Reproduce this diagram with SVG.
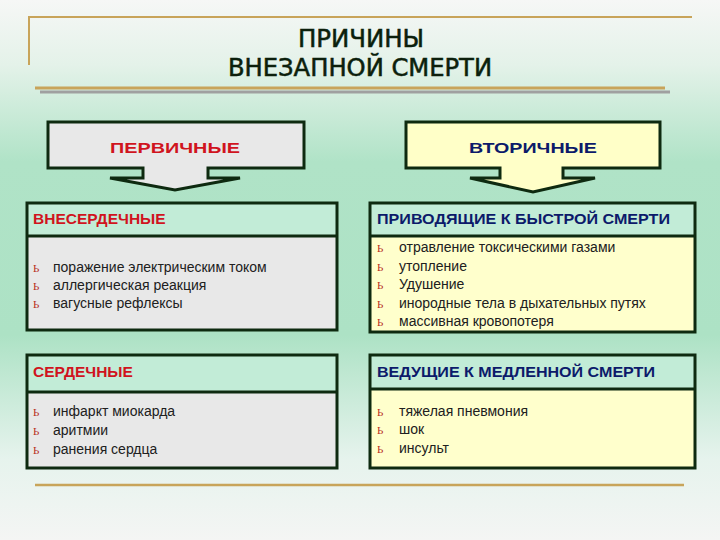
<svg xmlns="http://www.w3.org/2000/svg" width="720" height="540" viewBox="0 0 720 540">
<defs>
<linearGradient id="bg" x1="0" y1="0" x2="0" y2="1">
<stop offset="0" stop-color="#f6f7f6"/>
<stop offset="0.12" stop-color="#e4f2e9"/>
<stop offset="0.3" stop-color="#b0e3c7"/>
<stop offset="0.62" stop-color="#ade2c5"/>
<stop offset="0.85" stop-color="#e6f3ed"/>
<stop offset="1" stop-color="#f4f5f4"/>
</linearGradient>
<style>
.frame{stroke:#0e2a10;stroke-width:3;}
.hdrG{fill:#c2ecd7;}
.bodyG{fill:#e8e8e8;}
.bodyY{fill:#ffffcc;}
.title{font-family:"DejaVu Sans Condensed","DejaVu Sans",sans-serif;font-size:24px;fill:#0c1f0c;text-anchor:middle;stroke:#0c1f0c;stroke-width:0.5;}
.hred{font-family:"Liberation Sans",Arial,sans-serif;font-size:15.5px;font-weight:bold;fill:#d0141e;}
.hblue{font-family:"Liberation Sans",Arial,sans-serif;font-size:15.5px;font-weight:bold;fill:#0c1a6a;}
.item{font-family:"Liberation Sans",Arial,sans-serif;font-size:14px;fill:#202020;}
.bul{font-family:"Liberation Serif",serif;font-size:11px;fill:#b8301c;}
</style>
</defs>
<rect width="720" height="540" fill="url(#bg)"/>
<g id="title">
<line x1="29" y1="17" x2="692" y2="17" stroke="#c8a45a" stroke-width="2"/>
<line x1="29" y1="16" x2="29" y2="65" stroke="#c8a45a" stroke-width="2"/>
<text class="title" x="361" y="47" textLength="126" lengthAdjust="spacingAndGlyphs">ПРИЧИНЫ</text>
<text class="title" x="360" y="76" textLength="264" lengthAdjust="spacingAndGlyphs">ВНЕЗАПНОЙ СМЕРТИ</text>
<line x1="40" y1="92" x2="670" y2="92" stroke="#a0a0a0" stroke-width="3"/>
<line x1="35" y1="88" x2="665" y2="88" stroke="#c8a45a" stroke-width="3"/>
</g>
<g id="connectors"></g>
<g id="primary">
<path class="frame" fill="#e8e8e8" d="M48,122 H304 V168 H208 V178 H240 L175,190 L110,178 H143 V168 H48 Z"/>
<text class="hred" x="175" y="153" text-anchor="middle" font-size="19" textLength="130" lengthAdjust="spacingAndGlyphs">ПЕРВИЧНЫЕ</text>
</g>
<g id="secondary">
<path class="frame" fill="#ffffc8" d="M406,122 H660 V168 H563 V178 H595 L533,192 L470,178 H500 V168 H406 Z"/>
<text class="hblue" x="533" y="153" text-anchor="middle" font-size="19" textLength="128" lengthAdjust="spacingAndGlyphs">ВТОРИЧНЫЕ</text>
</g>
<g id="extracardiac">
<rect class="hdrG" x="27" y="203" width="310" height="33"/>
<rect class="bodyG" x="27" y="236" width="310" height="94"/>
<rect class="frame" fill="none" x="27" y="203" width="310" height="127"/>
<line class="frame" x1="27" y1="236" x2="337" y2="236"/>
<text class="hred" x="33" y="224">ВНЕСЕРДЕЧНЫЕ</text>
<text class="bul" x="33" y="272">Ь</text><text class="item" x="53" y="272">поражение электрическим током</text>
<text class="bul" x="33" y="290">Ь</text><text class="item" x="53" y="290">аллергическая реакция</text>
<text class="bul" x="33" y="308">Ь</text><text class="item" x="53" y="308">вагусные рефлексы</text>
</g>
<g id="fast">
<rect class="hdrG" x="370" y="203" width="325" height="33"/>
<rect class="bodyY" x="370" y="236" width="325" height="96"/>
<rect class="frame" fill="none" x="370" y="203" width="325" height="129"/>
<line class="frame" x1="370" y1="236" x2="695" y2="236"/>
<text class="hblue" x="377" y="224" textLength="293" lengthAdjust="spacingAndGlyphs">ПРИВОДЯЩИЕ К БЫСТРОЙ СМЕРТИ</text>
<text class="bul" x="377" y="252">Ь</text><text class="item" x="399" y="252">отравление токсическими газами</text>
<text class="bul" x="377" y="271">Ь</text><text class="item" x="399" y="271">утопление</text>
<text class="bul" x="377" y="289">Ь</text><text class="item" x="399" y="289">Удушение</text>
<text class="bul" x="377" y="308">Ь</text><text class="item" x="399" y="308">инородные тела в дыхательных путях</text>
<text class="bul" x="377" y="326">Ь</text><text class="item" x="399" y="326">массивная кровопотеря</text>
</g>
<g id="cardiac">
<rect class="hdrG" x="27" y="355" width="310" height="37"/>
<rect class="bodyG" x="27" y="392" width="310" height="76"/>
<rect class="frame" fill="none" x="27" y="355" width="310" height="113"/>
<line class="frame" x1="27" y1="392" x2="337" y2="392"/>
<text class="hred" x="33" y="377">СЕРДЕЧНЫЕ</text>
<text class="bul" x="33" y="416">Ь</text><text class="item" x="53" y="416">инфаркт миокарда</text>
<text class="bul" x="33" y="435">Ь</text><text class="item" x="53" y="435">аритмии</text>
<text class="bul" x="33" y="454">Ь</text><text class="item" x="53" y="454">ранения сердца</text>
</g>
<g id="slow">
<rect class="hdrG" x="370" y="355" width="325" height="34"/>
<rect class="bodyY" x="370" y="389" width="325" height="79"/>
<rect class="frame" fill="none" x="370" y="355" width="325" height="113"/>
<line class="frame" x1="370" y1="389" x2="695" y2="389"/>
<text class="hblue" x="377" y="377" textLength="278" lengthAdjust="spacingAndGlyphs">ВЕДУЩИЕ К МЕДЛЕННОЙ СМЕРТИ</text>
<text class="bul" x="377" y="416">Ь</text><text class="item" x="399" y="416">тяжелая пневмония</text>
<text class="bul" x="377" y="434">Ь</text><text class="item" x="399" y="434">шок</text>
<text class="bul" x="377" y="453">Ь</text><text class="item" x="399" y="453">инсульт</text>
</g>
<line x1="35" y1="485" x2="684" y2="485" stroke="#c8a45a" stroke-width="2.5"/>
</svg>
